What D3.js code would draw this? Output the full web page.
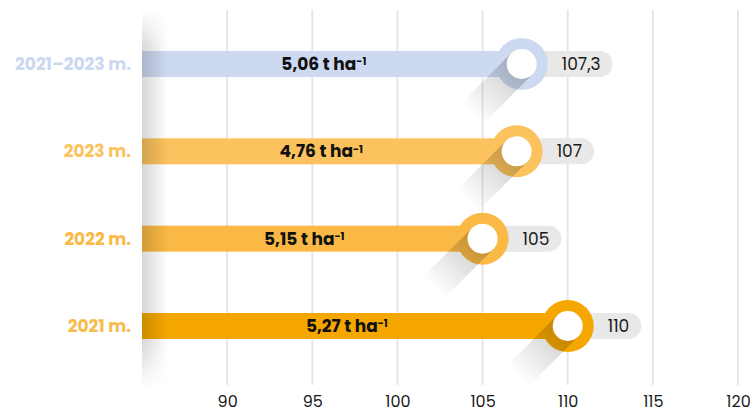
<!DOCTYPE html>
<html>
<head>
<meta charset="utf-8">
<script src="https://cdn.jsdelivr.net/npm/d3@7"></script>
<style>
  body { margin: 0; background: #fff; }
  svg { display: block; font-family: Poppins, Inter, sans-serif; }
</style>
</head>
<body>
<svg id="chart" width="756" height="412"></svg>
<script>
// data
let categories = ["2021–2023 m.", "2023 m.", "2022 m.", "2021 m."];
let values = [107.3, 107, 105, 110];
let valueLabels = ["107,3", "107", "105", "110"];
let yieldLabels = ["5,06", "4,76", "5,15", "5,27"];
let barColors = ["#cdd9f0", "#fbc25d", "#f9b944", "#f5a700"];
let labelColors = ["#cbd8f0", "#fbc25d", "#f9b944", "#f8bc4c"];
let ticks = [90, 95, 100, 105, 110, 115, 120];

let svg = d3.select("#chart");
let defs = svg.append("defs");

let x = d3.scaleLinear().domain([85, 120]).range([142, 738]);
let y = d3.scalePoint().domain(categories).range([64, 326]);
let barH = 26, rOut = 26, rIn = 15, shadowLen = 70;

// grid
svg.append("g").selectAll("line")
    .data(ticks)
    .enter().append("line")
    .attr("x1", d => x(d)).attr("x2", d => x(d))
    .attr("y1", 10).attr("y2", 385)
    .style("stroke", "#e6e6e6")
    .style("stroke-width", 2);

// axis labels
let axis = svg.append("g")
    .attr("transform", "translate(0,397)")
    .call(d3.axisBottom(x).tickValues(ticks).tickSize(0).tickPadding(0).tickFormat(d3.format("d")));
axis.select(".domain").remove();
axis.selectAll("text")
    .attr("y", 0)
    .attr("dy", "0.6em")
    .style("font-family", "Poppins, Inter, sans-serif")
    .style("font-size", "16px")
    .style("fill", "#1a1a1a");

// category labels
svg.append("g").selectAll("text")
    .data(categories)
    .enter().append("text")
    .attr("x", 131)
    .attr("y", d => y(d))
    .attr("dy", "0.36em")
    .attr("text-anchor", "end")
    .style("font-size", "17px")
    .style("font-weight", 700)
    .style("fill", (d, i) => labelColors[i])
    .text(d => d);

let rows = svg.append("g").selectAll("g")
    .data(categories)
    .enter().append("g");

// value pills
rows.append("rect")
    .attr("class", "pill")
    .attr("x", (d, i) => x(values[i]))
    .attr("y", d => y(d) - barH / 2)
    .attr("height", barH)
    .attr("rx", barH / 2)
    .style("fill", "#e8e8e8");

rows.append("text")
    .attr("class", "val")
    .attr("x", (d, i) => x(values[i]) + 40)
    .attr("y", d => y(d))
    .attr("dy", "0.36em")
    .style("font-size", "17px")
    .style("fill", "#1a1a1a")
    .text((d, i) => valueLabels[i]);

rows.each(function(d, i) {
  let g = d3.select(this);
  let tw = g.select(".val").node().getComputedTextLength();
  g.select(".pill").attr("width", 40 + tw + 12);
});

// bars
rows.append("rect")
    .attr("x", x(85))
    .attr("y", d => y(d) - barH / 2)
    .attr("width", (d, i) => x(values[i]) - x(85))
    .attr("height", barH)
    .style("fill", (d, i) => barColors[i]);

// rings
rows.append("circle")
    .attr("cx", (d, i) => x(values[i]))
    .attr("cy", d => y(d))
    .attr("r", rOut)
    .style("fill", (d, i) => barColors[i]);

// long shadows
rows.each(function(d, i) {
  let cx = x(values[i]), cy = y(d);
  let k = rIn / Math.SQRT2, l = shadowLen / Math.SQRT2;
  let gid = "sh" + i;
  let grad = defs.append("linearGradient").attr("id", gid)
      .attr("gradientUnits", "userSpaceOnUse")
      .attr("x1", cx).attr("y1", cy)
      .attr("x2", cx - l).attr("y2", cy + l);
  grad.append("stop").attr("offset", 0).attr("stop-color", "#000").attr("stop-opacity", 0.22);
  grad.append("stop").attr("offset", 0.45).attr("stop-color", "#000").attr("stop-opacity", 0.12);
  grad.append("stop").attr("offset", 1).attr("stop-color", "#000").attr("stop-opacity", 0);
  let pts = [[cx + k, cy + k], [cx - k, cy - k], [cx - k - l, cy - k + l], [cx + k - l, cy + k + l]];
  d3.select(this).append("path")
      .attr("d", d3.line()(pts) + "Z")
      .style("fill", `url(#${gid})`);
});

rows.append("circle")
    .attr("cx", (d, i) => x(values[i]))
    .attr("cy", d => y(d))
    .attr("r", rIn)
    .style("fill", "#fff");

// yield labels inside bars
let yl = rows.append("text")
    .attr("x", (d, i) => (x(85) + x(values[i])) / 2 - 8)
    .attr("y", d => y(d))
    .attr("dy", "0.36em")
    .attr("text-anchor", "middle")
    .style("font-size", "17px")
    .style("font-weight", 700)
    .style("fill", "#111");
yl.append("tspan").text((d, i) => yieldLabels[i] + " t ha");
yl.append("tspan").attr("dy", "-0.45em").style("font-size", "10.5px").text("-1");

// left edge shadow
let lg = defs.append("linearGradient").attr("id", "leftSh");
lg.append("stop").attr("offset", 0).attr("stop-color", "#000").attr("stop-opacity", 0.16);
lg.append("stop").attr("offset", 1).attr("stop-color", "#000").attr("stop-opacity", 0);
let mg = defs.append("linearGradient").attr("id", "leftFade")
    .attr("x1", 0).attr("y1", 0).attr("x2", 0).attr("y2", 1);
mg.append("stop").attr("offset", 0).attr("stop-color", "#fff").attr("stop-opacity", 0);
mg.append("stop").attr("offset", 0.1).attr("stop-color", "#fff").attr("stop-opacity", 1);
mg.append("stop").attr("offset", 0.88).attr("stop-color", "#fff").attr("stop-opacity", 1);
mg.append("stop").attr("offset", 1).attr("stop-color", "#fff").attr("stop-opacity", 0);
defs.append("mask").attr("id", "leftMask")
    .append("rect")
    .attr("x", x(85)).attr("y", 10).attr("width", 30).attr("height", 378)
    .style("fill", "url(#leftFade)");
svg.append("rect")
    .attr("x", x(85)).attr("y", 10).attr("width", 26).attr("height", 378)
    .attr("mask", "url(#leftMask)")
    .style("fill", "url(#leftSh)");
</script>
</body>
</html>
